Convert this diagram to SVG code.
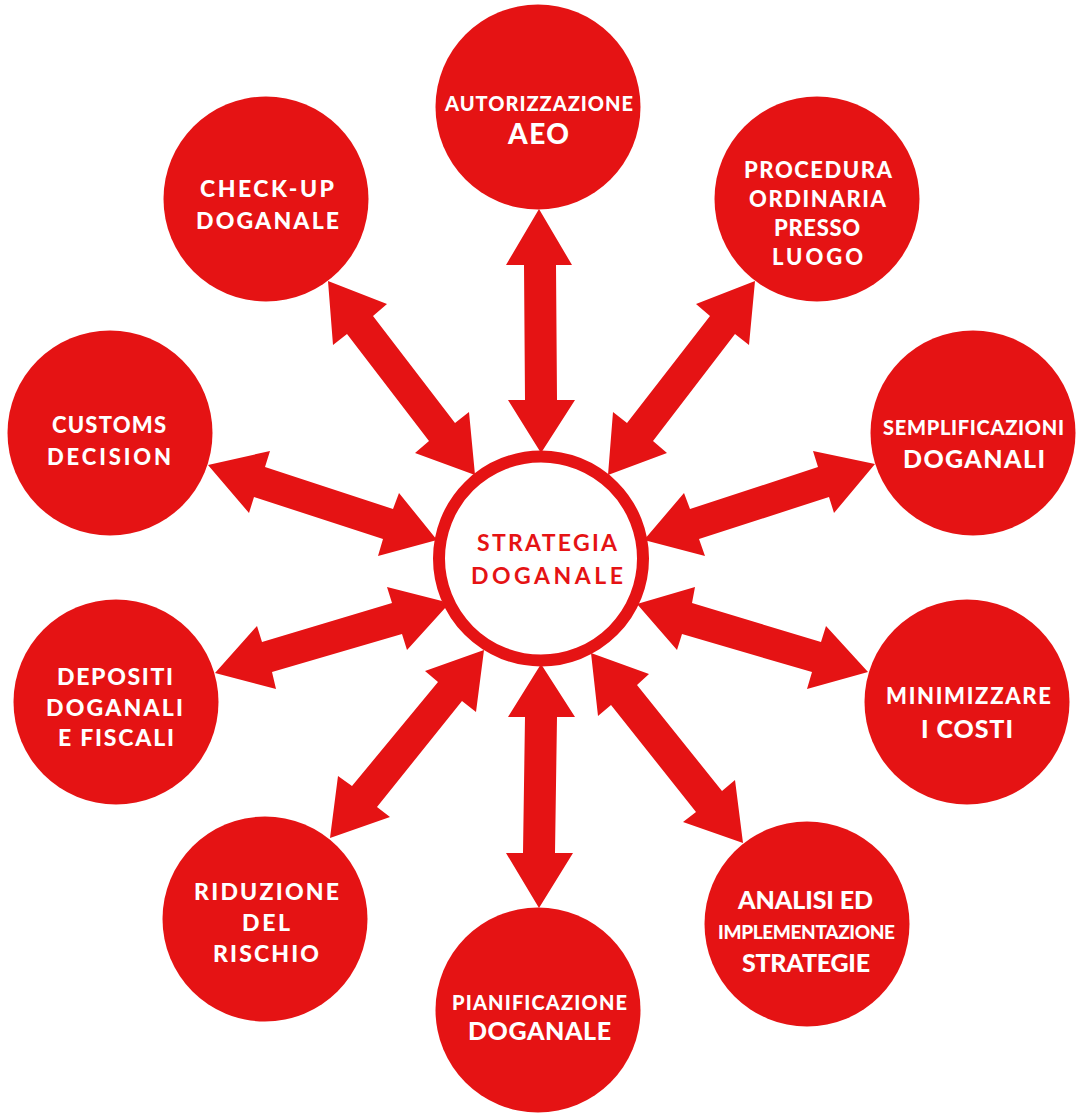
<svg xmlns="http://www.w3.org/2000/svg" width="1080" height="1119" viewBox="0 0 1080 1119">
<style>
.c{fill:#e51314}
.a{fill:#e51314}
text{font-family:"Lato","Liberation Sans",sans-serif;font-weight:900;fill:#fff}
.i{font-size:19px}.t{font-size:20px}.u{font-size:22px}.s{font-size:23px}.m{font-size:25px}.l{font-size:28px}
text.r{fill:#e51314;font-weight:700}
</style>
<rect width="1080" height="1119" fill="#fff"/>
<g id="connectors">
<polygon class="a" points="539,209 572,265 556,265 557,400 575,400 541,453 508,400 525,400 524,265 506,265"/>
<polygon class="a" points="328,281 387,304 373,316 455,423 469,412 475,475 415,453 429,441 347,334 333,345"/>
<polygon class="a" points="755,281 749,345 735,334 653,441 667,453 608,475 613,412 627,423 710,316 696,304"/>
<polygon class="a" points="875,464 834,513 829,497 699,539 705,556 644,540 684,493 690,509 818,467 813,451"/>
<polygon class="a" points="208,465 270,451 265,467 393,509 399,493 437,540 378,556 383,539 254,497 249,513"/>
<polygon class="a" points="868,672 807,689 812,672 682,634 677,650 637,604 695,587 692,603 821,642 826,626"/>
<polygon class="a" points="215,673 257,626 262,642 392,603 387,587 442,601 446,607 407,650 402,634 272,672 276,689"/>
<polygon class="a" points="330,838 338,776 352,786 438,682 425,671 484,650 476,712 462,701 377,807 390,817"/>
<polygon class="a" points="743,843 683,822 696,812 611,705 598,716 591,653 649,674 637,685 722,791 735,780"/>
<polygon class="a" points="541,664 575,717 557,717 555,853 573,853 539,908 506,853 523,853 525,717 508,717"/>
</g>
<g id="center"><circle cx="541" cy="558.5" r="102" fill="#fff" stroke="#e51314" stroke-width="12"/>
<text class="s r" x="477" y="551" textLength="140">STRATEGIA</text>
<text class="s r" x="471" y="584" textLength="152">DOGANALE</text></g>
<g id="n-autorizzazione"><circle class="c" cx="538" cy="107" r="102.5"/>
<text class="t" x="445" y="111" textLength="188">AUTORIZZAZIONE</text>
<text class="l" x="508" y="144" textLength="61">AEO</text></g>
<g id="n-procedura"><circle class="c" cx="817" cy="199" r="102.5"/>
<text class="u" x="744" y="178" textLength="148">PROCEDURA</text>
<text class="u" x="749" y="207" textLength="137">ORDINARIA</text>
<text class="u" x="774" y="236" textLength="86">PRESSO</text>
<text class="u" x="772" y="265" textLength="91">LUOGO</text></g>
<g id="n-semplificazioni"><circle class="c" cx="973" cy="433" r="102.5"/>
<text class="t" x="883" y="435" textLength="181">SEMPLIFICAZIONI</text>
<text class="m" x="903" y="468" textLength="142">DOGANALI</text></g>
<g id="n-minimizzare"><circle class="c" cx="967" cy="702" r="102.5"/>
<text class="u" x="886" y="704" textLength="165">MINIMIZZARE</text>
<text class="m" x="921" y="738" textLength="92">I COSTI</text></g>
<g id="n-analisi"><circle class="c" cx="807" cy="924" r="102.5"/>
<text class="m" x="738" y="909" textLength="135">ANALISI ED</text>
<text class="i" x="718" y="939" textLength="177">IMPLEMENTAZIONE</text>
<text class="m" x="742" y="972" textLength="128">STRATEGIE</text></g>
<g id="n-pianificazione"><circle class="c" cx="538" cy="1010" r="102.5"/>
<text class="t" x="452" y="1010" textLength="175">PIANIFICAZIONE</text>
<text class="m" x="468" y="1040" textLength="143">DOGANALE</text></g>
<g id="n-riduzione"><circle class="c" cx="265" cy="919" r="102.5"/>
<text class="s" x="194" y="900" textLength="145">RIDUZIONE</text>
<text class="s" x="242" y="931" textLength="48">DEL</text>
<text class="s" x="213" y="962" textLength="106">RISCHIO</text></g>
<g id="n-depositi"><circle class="c" cx="116" cy="702" r="102.5"/>
<text class="s" x="57" y="685" textLength="116">DEPOSITI</text>
<text class="s" x="46" y="716" textLength="137">DOGANALI</text>
<text class="s" x="58" y="746" textLength="116">E FISCALI</text></g>
<g id="n-customs"><circle class="c" cx="110" cy="433" r="102.5"/>
<text class="u" x="52" y="433" textLength="114">CUSTOMS</text>
<text class="u" x="47" y="465" textLength="124">DECISION</text></g>
<g id="n-checkup"><circle class="c" cx="266" cy="199" r="102.5"/>
<text class="s" x="200" y="197" textLength="134">CHECK-UP</text>
<text class="s" x="196" y="229" textLength="143">DOGANALE</text></g>
</svg>
